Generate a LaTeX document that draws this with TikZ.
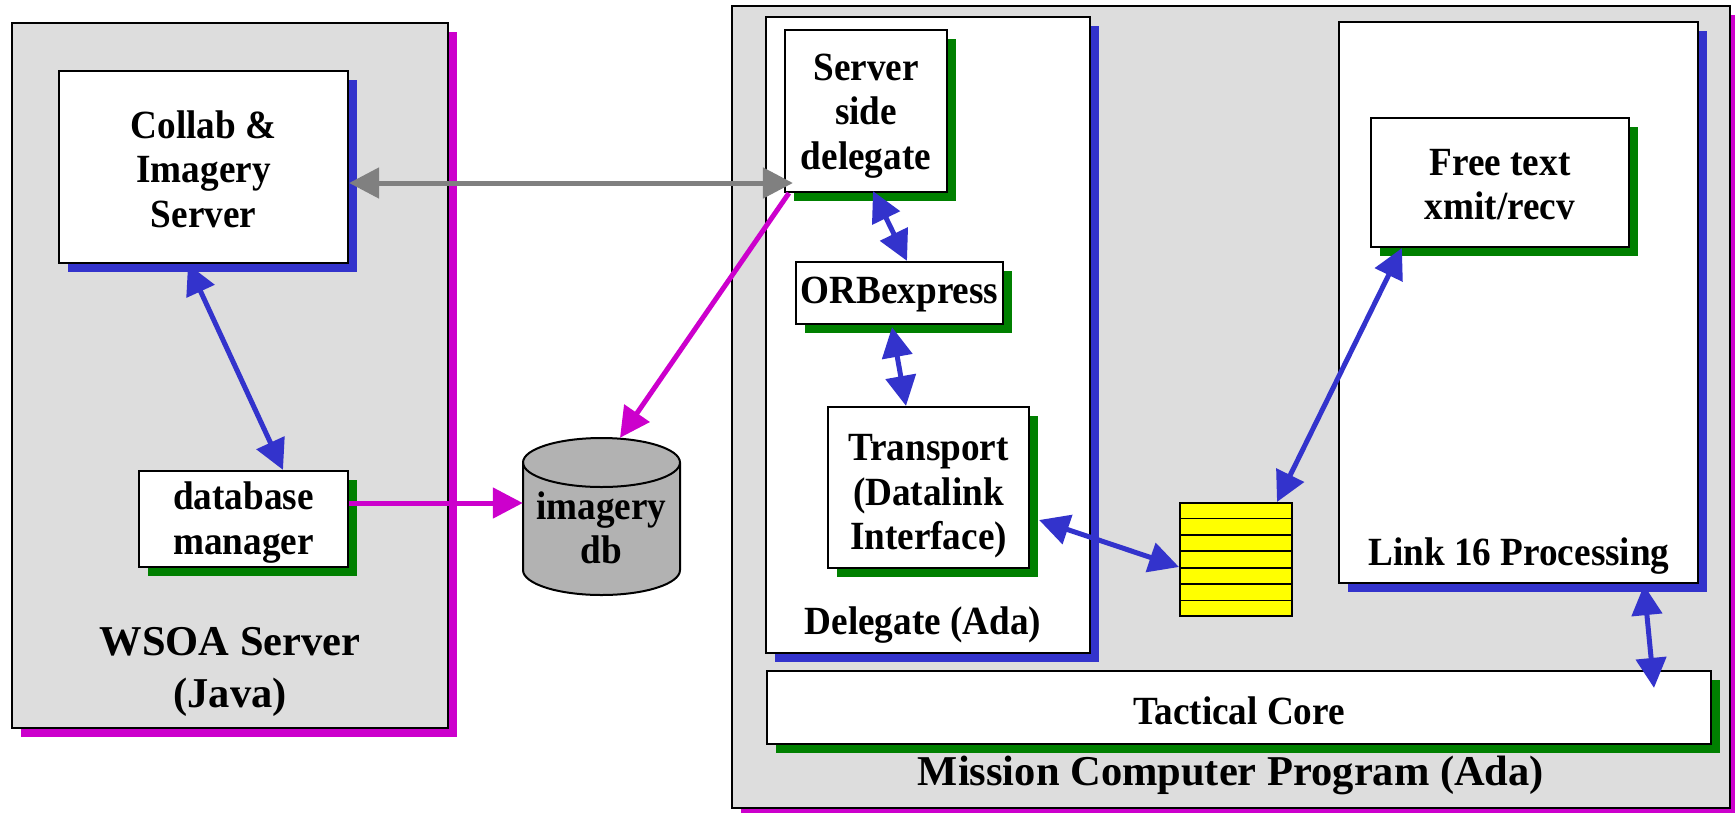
\documentclass[tikz,border=0pt]{standalone}
\usepackage{fontspec}
\setmainfont{Liberation Serif}
\newfontfamily\boxfont{Liberation Serif}[FakeStretch=0.93]
\usetikzlibrary{arrows.meta,shadows,calc}

\definecolor{panelgray}{HTML}{DDDDDD}
\definecolor{shblue}{HTML}{3333CC}
\definecolor{shgreen}{HTML}{008000}
\definecolor{shmag}{HTML}{CC00CC}
\definecolor{arrgray}{HTML}{808080}
\definecolor{dbgray}{HTML}{B2B2B2}
\definecolor{stackyellow}{HTML}{FFFF00}

\tikzset{
  unitbox/.style={draw=black, fill=white, line width=2.2pt, rectangle, inner sep=0pt},
  panelbox/.style={unitbox, fill=panelgray},
  blueshadow/.style={general shadow={fill=shblue, shadow xshift=9pt, shadow yshift=-9pt}},
  greenshadow/.style={general shadow={fill=shgreen, shadow xshift=9pt, shadow yshift=-9pt}},
  magshadow/.style={general shadow={fill=shmag, shadow xshift=9pt, shadow yshift=-9pt}},
  captiontext/.style={inner sep=0pt, align=center, font={\boxfont\bfseries\fontsize{40}{44.5}\selectfont}},
  titletext/.style={inner sep=0pt, align=center, font={\bfseries\fontsize{42.5}{52}\selectfont}},
  bluearrow/.style={draw=shblue, line width=5pt, >={Triangle[length=30pt,width=30pt]}},
  magarrow/.style={draw=shmag, line width=5pt, >={Triangle[length=30pt,width=30pt]}},
  grayarrow/.style={draw=arrgray, line width=5pt, >={Triangle[length=30pt,width=30pt]}},
}

\begin{document}
\begin{tikzpicture}[x=1pt,y=-1pt]
\useasboundingbox (0,0) rectangle (1735,812);
\clip (0,0) rectangle (1735,812);

% ---------- WSOA server side ----------
\node[panelbox, magshadow, minimum width=436pt, minimum height=705pt] (wsoa) at (230,375.5) {};
\node[unitbox, blueshadow, minimum width=289pt, minimum height=192pt] (collab) at (203.5,167) {};
\node[captiontext] (collabtext) at ([yshift=-2pt]collab.center) {Collab \&\\Imagery\\Server};
\node[unitbox, greenshadow, minimum width=209pt, minimum height=96pt] (dbm) at (243.5,519) {};
\node[captiontext] (dbmtext) at ([yshift=-3.5pt]dbm.center) {database\\manager};
\node[titletext] (wsoalabel) at (230,672) {WSOA Server\\(Java)};

% ---------- imagery database ----------
\path[draw=black, fill=dbgray, line width=2pt]
  (523,462.5) -- (523,570)
  arc[start angle=180, end angle=360, x radius=78.5pt, y radius=25pt]
  -- (680,462.5)
  arc[start angle=0, end angle=180, x radius=78.5pt, y radius=24.5pt] -- cycle;
\draw[line width=2pt] (523,462.5) arc[start angle=180, end angle=360, x radius=78.5pt, y radius=24.5pt];
\node[minimum width=157pt, minimum height=157pt, inner sep=0pt] (db) at (601.5,516.5) {};
\node[captiontext] (dblabel) at (601.5,528) {imagery\\db};

% ---------- mission computer ----------
\node[panelbox, magshadow, minimum width=998pt, minimum height=802pt] (mcp) at (1231,407) {};
\node[unitbox, blueshadow, minimum width=324pt, minimum height=636pt] (delegate) at (928,335) {};
\node[unitbox, blueshadow, minimum width=359pt, minimum height=561pt] (link16) at (1518.5,302.5) {};
\node[unitbox, greenshadow, minimum width=944pt, minimum height=73pt] (tactical) at (1239,707.5) {};
\node[captiontext] (tacticaltext) at ([yshift=-3pt]tactical.center) {Tactical Core};
\node[unitbox, greenshadow, minimum width=162pt, minimum height=162pt] (ssd) at (866,111) {};
\node[captiontext] (ssdtext) at ([yshift=-5pt]ssd.center) {Server\\side\\delegate};
\node[unitbox, greenshadow, minimum width=207pt, minimum height=62pt] (orb) at (899.5,293) {};
\node[captiontext] (orbtext) at ([yshift=-2pt]orb.center) {ORBexpress};
\node[unitbox, greenshadow, minimum width=201pt, minimum height=161pt] (transport) at (928.5,487.5) {};
\node[captiontext] (transporttext) at ([yshift=-9pt]transport.center) {Transport\\(Datalink\\Interface)};
\node[unitbox, greenshadow, minimum width=258pt, minimum height=129pt] (freetext) at (1500,182.5) {};
\node[captiontext] (freetexttext) at ([yshift=-2pt]freetext.center) {Free text\\xmit/recv};
\node[captiontext] (delegatelabel) at (923,625.5) {Delegate (Ada)};
\node[captiontext] (link16label) at (1519,556) {Link 16 Processing};
\node[titletext] (mcplabel) at (1231,775) {Mission Computer Program (Ada)};

% message queue
\node[draw=black, fill=stackyellow, line width=2pt, inner sep=0pt,
      minimum width=112pt, minimum height=113pt] (stack) at (1236,559.5) {};
\foreach \i in {1,...,6}
  \draw[line width=1.8pt] ($(stack.north west)!\i/7!(stack.south west)$) -- ($(stack.north east)!\i/7!(stack.south east)$);

% ---------- connectors ----------
\coordinate (g1) at ([yshift=-16pt]collab.east);
\coordinate (g2) at (g1 -| ssd.west);
\draw[grayarrow, <->] (g1) -- ([xshift=9pt]g2);

\draw[bluearrow, <->] ([xshift=-15.5pt]collab.south) -- ([xshift=39.5pt]dbm.north);

\coordinate (m1) at ([yshift=16pt]dbm.east);
\draw[magarrow, ->] (m1) -- (m1 -| db.west);
\draw[magarrow, ->] ([xshift=5pt]ssd.south west) -- ([xshift=18.5pt]db.north);

\draw[bluearrow, <->] ([xshift=7pt, yshift=2pt]ssd.south) -- ([xshift=7.5pt]orb.north);
\draw[bluearrow, <->] ([xshift=-7.5pt, yshift=-2pt]orb.south) -- ([xshift=-22.5pt]transport.north);
\draw[bluearrow, <->] ([xshift=9pt, yshift=-32.5pt]transport.east) -- ([yshift=-7.5pt]stack.west);
\draw[bluearrow, <->] ([xshift=32pt]freetext.south west) -- ([xshift=41pt]stack.north);
\draw[bluearrow, <->] ([xshift=125.5pt, yshift=-1pt]link16.south) -- ([xshift=415pt, yshift=-18pt]tactical.north);
\end{tikzpicture}
\end{document}
